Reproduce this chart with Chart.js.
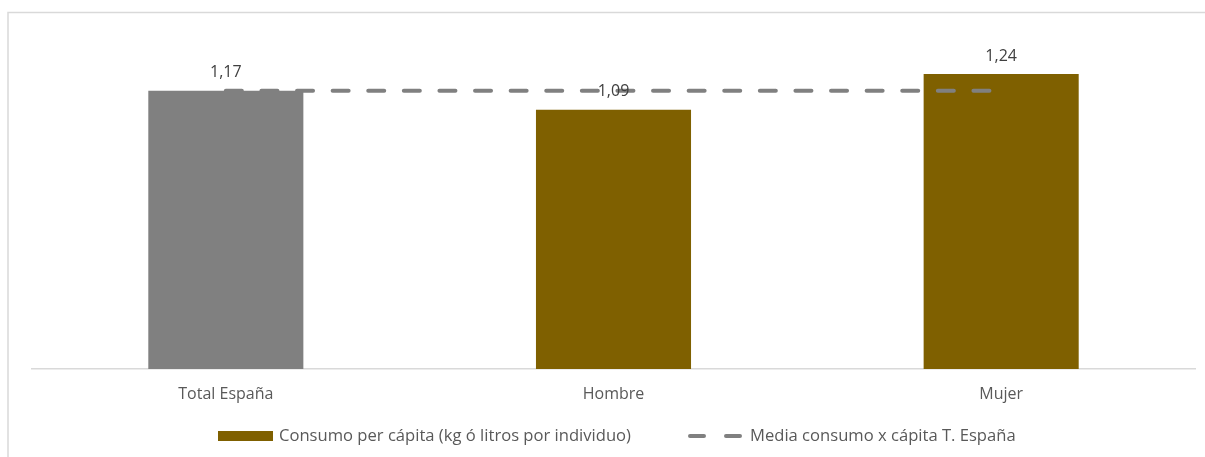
<!DOCTYPE html>
<html>
<head>
<meta charset="utf-8">
<script src="https://cdn.jsdelivr.net/npm/chart.js@4"></script>
<style>
    html, body { margin: 0; padding: 0; background: #fff; }
    #wrap { position: absolute; left: 0; top: 0; width: 1205px; height: 457px; }
</style>
</head>
<body>
<div id="wrap"><canvas id="chart" width="1205" height="457"></canvas></div>
<script>
// datos
const categorias = ['Total España', 'Hombre', 'Mujer'];
const consumo = [1.17, 1.09, 1.24];
const mediaEspana = [1.17, 1.17, 1.17];
const coloresBarras = ['#808080', '#7F6000', '#7F6000'];
const etiquetas = ['Consumo per cápita (kg ó litros por individuo)', 'Media consumo x cápita T. España'];

const FUENTE = '16px "Open Sans"';

function fmt(v) {
    return v.toFixed(2).replace('.', ',');
}

// marco gris del gráfico
const marco = {
    id: 'marco',
    beforeDraw(chart) {
        const ctx = chart.ctx;
        ctx.save();
        ctx.strokeStyle = '#d9d9d9';
        ctx.lineWidth = 1.5;
        ctx.beginPath();
        ctx.moveTo(8, 457);
        ctx.lineTo(8, 12.5);
        ctx.lineTo(1205, 12.5);
        ctx.stroke();
        ctx.restore();
    }
};

// etiquetas de valor encima de las barras
const valores = {
    id: 'valores',
    afterDatasetsDraw(chart) {
        const ctx = chart.ctx;
        const meta = chart.getDatasetMeta(0);
        ctx.save();
        ctx.font = FUENTE;
        ctx.fillStyle = '#404040';
        ctx.textAlign = 'center';
        ctx.textBaseline = 'middle';
        meta.data.forEach((bar, i) => {
            ctx.fillText(fmt(consumo[i]), bar.x, bar.y - 18);
        });
        ctx.restore();
    }
};

// leyenda dibujada a mano (Excel deja mucho hueco entre elementos)
const leyenda = {
    id: 'leyenda',
    afterDraw(chart) {
        const ctx = chart.ctx;
        const y = 436;
        ctx.save();
        ctx.font = '16.6px "Open Sans"';
        ctx.textBaseline = 'middle';
        ctx.textAlign = 'left';
        ctx.fillStyle = '#7F6000';
        ctx.fillRect(218, y - 5, 55, 10);
        ctx.fillStyle = '#595959';
        ctx.fillText(etiquetas[0], 279, y);

        const ds = chart.data.datasets[1];
        ctx.strokeStyle = ds.borderColor;
        ctx.lineWidth = ds.borderWidth;
        ctx.lineCap = 'round';
        ctx.setLineDash([14, 22]);
        ctx.beginPath();
        ctx.moveTo(690, y);
        ctx.lineTo(745, y);
        ctx.stroke();
        ctx.fillText(etiquetas[1], 750, y);
        ctx.restore();
    }
};

Chart.defaults.font.family = 'Open Sans';
Chart.defaults.font.size = 16;
Chart.defaults.color = '#595959';

new Chart(document.getElementById('chart'), {
    type: 'bar',
    data: {
        labels: categorias,
        datasets: [{
                type: 'bar',
                label: etiquetas[0],
                data: consumo,
                backgroundColor: coloresBarras,
                categoryPercentage: 1,
                barPercentage: 0.4,
                order: 1
            },
            {
                type: 'line',
                label: etiquetas[1],
                data: mediaEspana,
                borderColor: '#808080',
                borderWidth: 4,
                borderDash: [16, 19.6],
                borderCapStyle: 'round',
                pointRadius: 0,
                fill: false,
                order: 0
            }
        ]
    },
    options: {
        responsive: false,
        animation: false,
        layout: {
            padding: { left: 32, right: 10, top: 36, bottom: 0 }
        },
        plugins: {
            legend: { display: false },
            tooltip: { enabled: false }
        },
        scales: {
            x: {
                grid: { display: false, drawTicks: false },
                border: { display: true, color: '#d9d9d9', width: 1.5 },
                ticks: { padding: 16, color: '#595959' },
                afterFit: s => { s.height = 88; }
            },
            y: {
                display: false,
                min: 0,
                max: 1.4
            }
        }
    },
    plugins: [marco, valores, leyenda]
});
</script>
</body>
</html>
